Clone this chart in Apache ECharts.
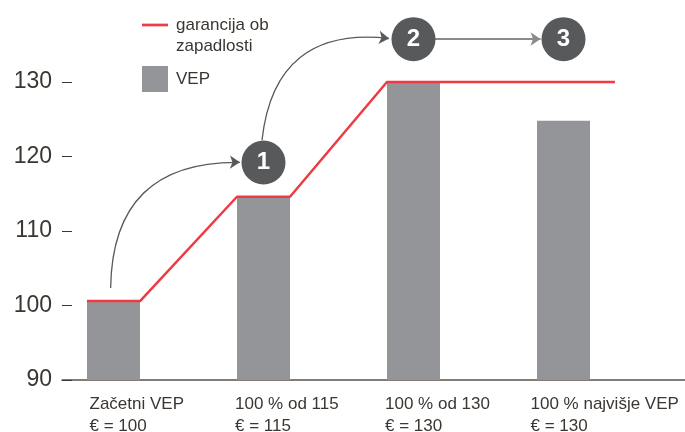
<!DOCTYPE html>
<html>
<head>
<meta charset="utf-8">
<script src="https://cdn.jsdelivr.net/npm/echarts@6/dist/echarts.min.js"></script>
<style>
  html, body {margin:0; padding:0; background:#fff;}
  #chart {width:685px; height:432px;}
</style>
</head>
<body>
<div id="chart"></div>
<script>
// kategorije in vrednosti
var categories = ['Začetni VEP\n€ = 100', '100 % od 115\n€ = 115', '100 % od 130\n€ = 130', '100 % najvišje VEP\n€ = 130'];
var categoryX = [0, 1, 2, 3];
var labelX = [-0.16, 0.81, 1.81, 2.78];
var vepValues = [100.6, 114.6, 130, 124.8];
var guaranteeX = [-0.177, 0.177, 0.823, 1.177, 1.823, 2.177, 3.343];
var guaranteeY = [100.6, 100.6, 114.6, 114.6, 130, 130, 130];
var seriesNames = ['garancija ob\nzapadlosti', 'VEP'];
// oznake korakov
var stepLabels = ['1', '2', '3'];
var stepX = [1, 2, 3];
var stepY = [119.2, 135.75, 135.75];
// puscice: [x1, y1, x2, y2, ukrivljenost]
var arrows = [
    [-0.019, 102.35, 0.843, 119.22, 0.5],
    [0.99, 122.2, 1.837, 135.84, 0.5],
    [2.143, 135.77, 2.847, 135.77, 0]
];

var textColor = '#3b3631';
var redColor = '#ee3a43';
var font = 'Liberation Sans';

var chart = echarts.init(document.getElementById('chart'));

var barData = [];
for (var i = 0; i < categoryX.length; i++) barData.push([categoryX[i], vepValues[i]]);
var lineData = [];
for (var i = 0; i < guaranteeX.length; i++) lineData.push([guaranteeX[i], guaranteeY[i]]);
var stepData = [];
for (var i = 0; i < stepX.length; i++) stepData.push({value: [stepX[i], stepY[i]], name: stepLabels[i]});
var arrowData = [];
for (var i = 0; i < arrows.length; i++) {
    var a = arrows[i];
    arrowData.push({
        coords: [[a[0], a[1]], [a[2], a[3]]],
        lineStyle: i == 2 ? {curveness: 0, color: '#8a8b8d', width: 2, opacity: 1}
                          : {curveness: a[4], color: '#58595b', width: 1.3, opacity: 1}
    });
}

var legendBase = {
    orient: 'vertical',
    left: 142,
    padding: 0,
    itemWidth: 26,
    itemHeight: 26,
    selectedMode: false,
    textStyle: {fontSize: 17, lineHeight: 21, color: textColor, fontFamily: font, padding: [0, 0, 0, 3]}
};

var option = {
    animation: false,
    textStyle: {fontFamily: font},
    grid: {left: 62, right: 0, top: 82, bottom: 52, containLabel: false, outerBoundsMode: 'none'},
    legend: [
        echarts.util.extend({
            top: -6.5,
            // prva vrstica besedila v isti visini kot crta
            formatter: function (name) { return '\n' + name; },
            data: [{name: seriesNames[0], icon: 'path://M0,0L24,0L24,2.5L0,2.5Z', itemStyle: {color: redColor}}]
        }, legendBase),
        echarts.util.extend({
            top: 66,
            data: [{name: seriesNames[1], icon: 'rect'}]
        }, legendBase)
    ],
    xAxis: {
        type: 'value',
        min: -0.3433,
        max: 3.81,
        splitLine: {show: false},
        axisTick: {show: false},
        axisLine: {show: true, lineStyle: {color: '#5b5048', width: 1.5}},
        axisLabel: {
            customValues: labelX,
            align: 'left',
            verticalAlign: 'top',
            margin: 13,
            fontSize: 17,
            lineHeight: 22,
            color: textColor,
            formatter: function (v) {
                return categories[Math.round(v)];
            }
        }
    },
    yAxis: {
        type: 'value',
        min: 90,
        max: 130,
        interval: 10,
        splitLine: {show: false},
        axisLine: {show: false, onZero: false},
        axisTick: {show: true, inside: true, length: 10, lineStyle: {color: textColor, width: 1}},
        axisLabel: {margin: 10, fontSize: 23, color: textColor}
    },
    series: [
        {
            name: seriesNames[1],
            type: 'bar',
            barWidth: 53,
            itemStyle: {color: '#939598'},
            data: barData,
            z: 1
        },
        {
            name: seriesNames[0],
            type: 'line',
            symbol: 'none',
            clip: false,
            lineStyle: {color: redColor, width: 2.5},
            itemStyle: {color: redColor},
            data: lineData,
            z: 2
        },
        {
            type: 'lines',
            coordinateSystem: 'cartesian2d',
            symbol: ['none', 'arrow'],
            symbolSize: 10,
            clip: false,
            data: arrowData,
            z: 3
        },
        {
            type: 'scatter',
            symbol: 'circle',
            symbolSize: 44,
            clip: false,
            itemStyle: {color: '#58595b', opacity: 1},
            label: {show: true, position: 'inside', formatter: '{b}', color: '#fff', fontSize: 24, fontWeight: 'bold', fontFamily: font},
            data: stepData,
            z: 4
        }
    ]
};

chart.setOption(option);
</script>
</body>
</html>
